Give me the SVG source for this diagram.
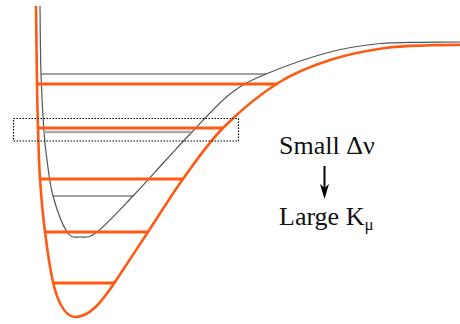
<svg xmlns="http://www.w3.org/2000/svg" width="460" height="324" viewBox="0 0 460 324">
<style>
.orange{fill:none;stroke:#ff5a14;stroke-width:2.6;stroke-linejoin:round}
.lvl{stroke:#ff5a14;stroke-width:3;fill:none}
.gray{fill:none;stroke:#555;stroke-width:1.2}
.glvl{stroke:#444;stroke-width:1.2;fill:none}
.glvl2{stroke:#aaa;stroke-width:2.5;fill:none}
.lbl{font-family:"Liberation Serif","Times New Roman",serif;font-size:26px;fill:#111}
</style>
<rect width="460" height="324" fill="#fff"/>
<g id="excited-potential">
<path class="gray" d="M40,6 C40.17,17.33 40.33,53 41,74 C41.67,95 43,117.67 44,132 C45,146.33 45.5,149.33 47,160 C48.5,170.67 49.67,184 53,196 C56.33,208 62.5,225.17 67,232 C71.5,238.83 75,237 80,237 C85,237 88.17,238.83 97,232 C105.83,225.17 121.5,208 133,196 C144.5,184 156.17,170.67 166,160 C175.83,149.33 181.33,143 192,132 C202.67,121 217.67,103.67 230,94 C242.33,84.33 249.33,81 266,74 C282.67,67 311,57.08 330,52 C349,46.92 365,45.12 380,43.5 C395,42.4 406.67,42.55 420,42.3 C426.67,42.25 453.33,42.05 460,42"/>
<line class="glvl" x1="41" y1="74" x2="266" y2="74"/>
<line class="glvl2" x1="44" y1="132" x2="191" y2="132"/>
<line class="glvl" x1="53" y1="196" x2="133" y2="196"/>
</g>
<g id="ground-potential">
<path class="orange" d="M36,6 C36.17,19 36.67,63.67 37,84 C37.33,104.33 37.5,112.17 38,128 C38.5,143.83 38.83,161.67 40,179 C41.17,196.33 42.83,214.83 45,232 C47.17,249.17 50.2,269.5 53,282 C56.6,298 64,317 75,317 C89,317 101,303.3 115,282 C123.5,269 136.67,249.17 148,232 C159.33,214.83 170.5,196.33 183,179 C195.5,161.67 207.17,144 223,128 C238.83,112 260.17,94.33 278,83 C295.83,71.67 312.17,65.83 330,60 C347.83,54.17 368.33,50.45 385,48 C401.67,45.55 417.5,45.83 430,45.3 C442.5,44.77 455,44.88 460,44.8"/>
<line class="lvl" x1="37" y1="84" x2="278" y2="84"/>
<line class="lvl" x1="38" y1="128" x2="223" y2="128"/>
<line class="lvl" x1="40" y1="179" x2="183" y2="179"/>
<line class="lvl" x1="45" y1="232" x2="148" y2="232"/>
<line class="lvl" x1="53" y1="283" x2="115" y2="283"/>
</g>
<g id="highlight">
<rect x="13.5" y="118.5" width="225" height="22.5" fill="none" stroke="#000" stroke-width="1.2" stroke-dasharray="1.5,1.5"/>
</g>
<g id="label-small">
<text class="lbl" x="279" y="154">Small Δν</text>
</g>
<g id="label-large">
<text class="lbl" x="279" y="225">Large K<tspan font-size="17" dy="5">μ</tspan></text>
</g>
<g id="connectors">
<line x1="324.5" y1="166" x2="324.5" y2="190" stroke="#000" stroke-width="2"/>
<polygon points="320,184 324.5,199 329,184 324.5,188" fill="#000"/>
</g>
</svg>
